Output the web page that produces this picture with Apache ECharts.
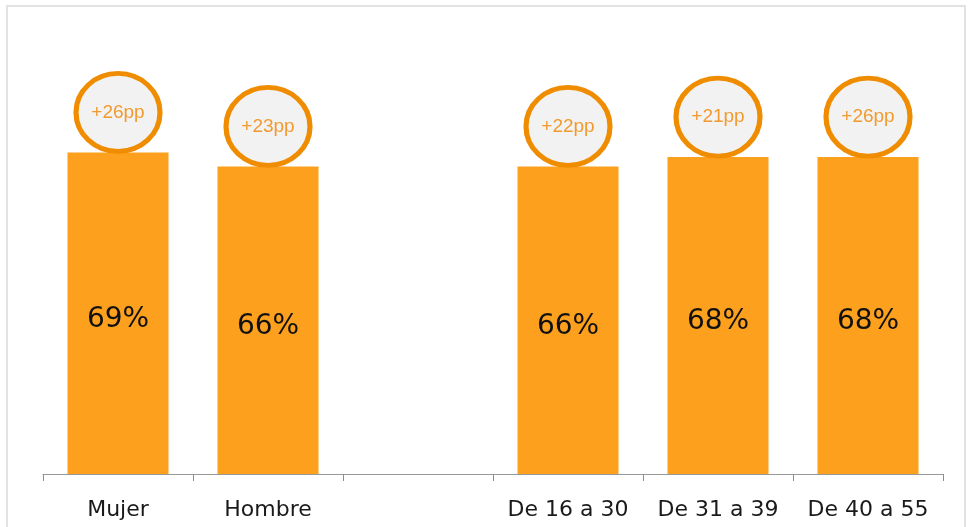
<!DOCTYPE html>
<html>
<head>
<meta charset="utf-8">
<script src="https://cdn.jsdelivr.net/npm/echarts@6/dist/echarts.min.js"></script>
<style>
html,body{margin:0;padding:0;background:#fff;}
#chart{width:970px;height:527px;}
</style>
</head>
<body>
<div id="chart"></div>
<script>
// categorias (la tercera es un hueco vacio)
var categories = ['Mujer', 'Hombre', '', 'De 16 a 30', 'De 31 a 39', 'De 40 a 55'];
var values = [69, 66, null, 66, 68, 68];
var deltas = ['+26pp', '+23pp', '', '+22pp', '+21pp', '+26pp'];

var myChart = echarts.init(document.getElementById('chart'));

var option = {
    backgroundColor: '#fff',
    animation: false,
    graphic: [
        {
            type: 'rect',
            shape: {x: 7, y: 6, width: 958, height: 540},
            style: {fill: 'none', stroke: '#e2e2e2', lineWidth: 2},
            silent: true
        }
    ],
    grid: {
        left: 43,
        width: 900,
        top: 8,
        bottom: 53
    },
    xAxis: {
        type: 'category',
        data: categories,
        axisLine: {lineStyle: {color: '#999', width: 1}},
        axisTick: {show: true, interval: 0, length: 7, lineStyle: {color: '#8c8c8c'}},
        axisLabel: {
            interval: 0,
            color: '#1a1a1a',
            fontFamily: 'DejaVu Sans',
            fontSize: 22,
            margin: 25
        }
    },
    yAxis: {
        type: 'value',
        min: 0,
        max: 100,
        show: false,
        splitLine: {show: false}
    },
    series: [
        {
            type: 'bar',
            data: values,
            barWidth: 101,
            itemStyle: {color: '#fca01d'},
            label: {
                show: true,
                position: 'inside',
                offset: [0, 6],
                formatter: '{c}%',
                color: '#111',
                fontFamily: 'DejaVu Sans',
                fontSize: 28
            }
        },
        {
            // circulos con la diferencia en pp
            type: 'scatter',
            data: values.map(function (v, i) {
                return {value: v, name: deltas[i]};
            }),
            symbol: 'circle',
            symbolSize: [84, 78],
            symbolOffset: [0, -40],
            itemStyle: {
                color: '#f2f2f2',
                borderColor: '#ef8c00',
                borderWidth: 5,
                opacity: 1
            },
            label: {
                show: true,
                position: 'inside',
                formatter: function (p) { return p.name; },
                color: '#f29a2e',
                fontFamily: 'Liberation Sans',
                fontSize: 19
            },
            z: 5
        }
    ]
};

myChart.setOption(option);
</script>
</body>
</html>
